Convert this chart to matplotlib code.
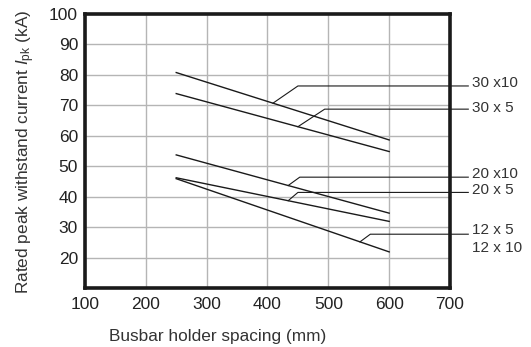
# Busbar holder spacing vs rated peak withstand current
import numpy as np
import matplotlib.pyplot as plt

plt.rcParams['font.family'] = ['Liberation Sans', 'DejaVu Sans']
plt.rcParams['mathtext.fontset'] = 'custom'
plt.rcParams['mathtext.rm'] = 'Liberation Sans'
plt.rcParams['mathtext.it'] = 'Liberation Sans:italic'

spacing = [250, 600]
i_30x10 = [80.8, 58.7]
i_30x5 = [73.9, 54.9]
i_20x10 = [53.8, 34.7]
i_20x5 = [46.3, 32.0]
i_12x = [46.0, 22.0]

x_ticks = [100, 200, 300, 400, 500, 600, 700]
y_ticks = [20, 30, 40, 50, 60, 70, 80, 90, 100]

# leader lines: (series, anchor x on line, knee x, knee y)
leaders = [
    (i_30x10, 409, 450, 76.4),
    (i_30x5, 450, 494, 68.8),
    (i_20x10, 434, 453, 46.5),
    (i_20x5, 434, 450, 41.5),
    (i_12x, 552, 569, 27.8),
]
labels = ['30 x10', '30 x 5', '20 x10', '20 x 5', '12 x 5', '12 x 10']
label_y = [77.3, 69.2, 47.7, 42.3, 29.3, 23.4]

fig = plt.figure(figsize=(5.31, 3.47), dpi=100)
ax = fig.add_axes([0.160, 0.1686, 0.6875, 0.7911])

for s in [i_30x10, i_30x5, i_20x10, i_20x5, i_12x]:
    ax.plot(spacing, s, color='#1a1a1a', lw=1.0, zorder=3)

for s, ax_x, kx, ky in leaders:
    ay = np.interp(ax_x, spacing, s)
    ax.plot([ax_x, kx, 730], [ay, ky, ky], color='#1a1a1a', lw=0.8,
            clip_on=False, zorder=3)

for lab, ly in zip(labels, label_y):
    ax.text(736, ly, lab, fontsize=11, va='center', ha='left', color='#333333')

ax.set_xlim(100, 700)
ax.set_ylim(10, 100)
ax.set_xticks(x_ticks)
ax.set_yticks(y_ticks)
ax.grid(True, color='#b5b5b5', lw=1.0)
ax.set_axisbelow(True)
ax.tick_params(length=0, labelsize=12.5, colors='#222222')
ax.tick_params(axis='x', pad=6)
ax.tick_params(axis='y', pad=5)
for sp in ax.spines.values():
    sp.set_linewidth(2.6)
    sp.set_color('#1a1a1a')

ax.set_ylabel(r'Rated peak withstand current $\mathit{I}_{\rm pk}$ (kA)',
              fontsize=12.4, color='#333333', labelpad=9)
fig.text(0.41, 0.03, 'Busbar holder spacing (mm)', fontsize=12.4,
         color='#333333', ha='center', va='center')

plt.savefig('out.png', dpi=100)
